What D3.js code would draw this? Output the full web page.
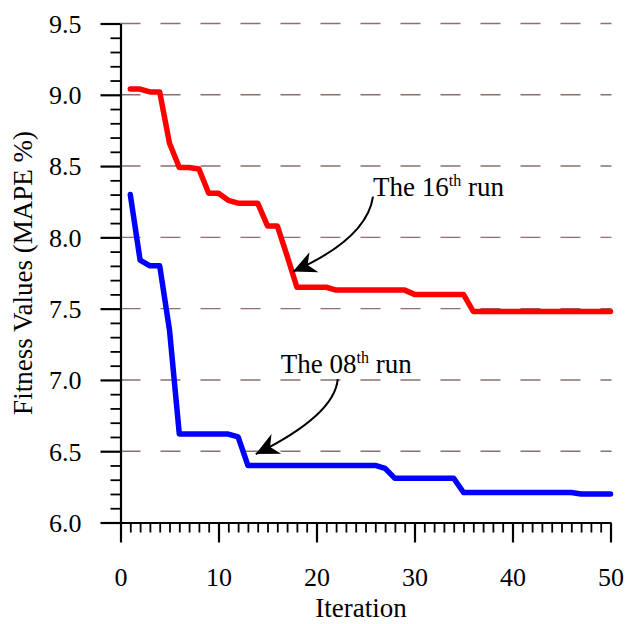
<!DOCTYPE html>
<html>
<head>
<meta charset="utf-8">
<script src="https://cdn.jsdelivr.net/npm/d3@7"></script>
<style>
  body { margin: 0; background: #fff; }
</style>
</head>
<body>
<div id="chart"></div>
<script>
// iterations 1..50
var iterations = d3.range(1, 51);

// the 16th run (red)
var run16 = [9.04, 9.04, 9.02, 9.02, 8.66, 8.49, 8.49, 8.48, 8.31, 8.31,
             8.26, 8.24, 8.24, 8.24, 8.08, 8.08, 7.87, 7.65, 7.65, 7.65,
             7.65, 7.63, 7.63, 7.63, 7.63, 7.63, 7.63, 7.63, 7.63, 7.60,
             7.60, 7.60, 7.60, 7.60, 7.60, 7.48, 7.48, 7.48, 7.48, 7.48,
             7.48, 7.48, 7.48, 7.48, 7.48, 7.48, 7.48, 7.48, 7.48, 7.48];

// the 08th run (blue)
var run08 = [8.30, 7.84, 7.80, 7.80, 7.35, 6.62, 6.62, 6.62, 6.62, 6.62,
             6.62, 6.60, 6.40, 6.40, 6.40, 6.40, 6.40, 6.40, 6.40, 6.40,
             6.40, 6.40, 6.40, 6.40, 6.40, 6.40, 6.38, 6.31, 6.31, 6.31,
             6.31, 6.31, 6.31, 6.31, 6.21, 6.21, 6.21, 6.21, 6.21, 6.21,
             6.21, 6.21, 6.21, 6.21, 6.21, 6.21, 6.20, 6.20, 6.20, 6.20];

var xTicks = [0, 10, 20, 30, 40, 50];
var yTicks = [6.0, 6.5, 7.0, 7.5, 8.0, 8.5, 9.0, 9.5];

// annotations: label, where the arrow points (iteration, value)
var notes = [
  { pre: "The 16", sup: "th", post: " run", at: [17.6, 7.76] },
  { pre: "The 08", sup: "th", post: " run", at: [13.8, 6.48] }
];

var FONT = "'Liberation Serif', 'Times New Roman', serif";

var w = 625, h = 624;
var svg = d3.select("#chart").append("svg")
    .attr("width", w)
    .attr("height", h)
    .attr("font-family", FONT);

var x = d3.scaleLinear().domain([0, 50]).range([120.5, 610.5]);
var y = d3.scaleLinear().domain([6, 9.5]).range([522.5, 23.5]);

// dashed grid
svg.append("g")
    .selectAll("line")
    .data(yTicks.slice(1))
    .enter()
    .append("line")
    .attr("x1", x(0))
    .attr("x2", x(50) + 1)
    .attr("y1", function(d) { return y(d); })
    .attr("y2", function(d) { return y(d); })
    .attr("stroke", "#8f6f6f")
    .attr("stroke-width", 1.4)
    .attr("stroke-dasharray", "20,20");

// minor ticks
var yMinor = d3.range(60, 96).map(function(d) { return d / 10; })
    .filter(function(d) { return Math.round(d * 10) % 5 != 0; });
var xMinor = d3.range(1, 51).filter(function(d) { return d % 10 != 0; });

svg.append("g")
    .attr("transform", "translate(" + x(0) + ",0)")
    .call(d3.axisLeft(y).tickValues(yMinor).tickSize(10).tickFormat(""))
    .call(function(g) {
        g.select(".domain").remove();
        g.selectAll("line").attr("stroke-width", 1.8);
    });

svg.append("g")
    .attr("transform", "translate(0," + y(6) + ")")
    .call(d3.axisBottom(x).tickValues(xMinor).tickSize(10).tickFormat(""))
    .call(function(g) {
        g.select(".domain").remove();
        g.selectAll("line").attr("stroke-width", 1.8);
    });

// major axes
svg.append("g")
    .attr("transform", "translate(" + x(0) + ",0)")
    .call(d3.axisLeft(y).tickValues(yTicks).tickSize(20).tickSizeOuter(0)
        .tickPadding(19).tickFormat(d3.format(".1f")))
    .attr("font-family", FONT)
    .attr("font-size", 26)
    .call(function(g) {
        g.select(".domain").attr("stroke-width", 2.2);
        g.selectAll("line").attr("stroke-width", 2.2);
        g.selectAll("text").attr("dy", "0.34em");
    });

svg.append("g")
    .attr("transform", "translate(0," + y(6) + ")")
    .call(d3.axisBottom(x).tickValues(xTicks).tickSize(20).tickSizeOuter(0)
        .tickPadding(25).tickFormat(d3.format("d")))
    .attr("font-family", FONT)
    .attr("font-size", 26)
    .call(function(g) {
        g.select(".domain").attr("stroke-width", 2.2);
        g.selectAll("line").attr("stroke-width", 2.2);
    });

// axis titles
svg.append("text")
    .attr("x", 361)
    .attr("y", 617)
    .attr("text-anchor", "middle")
    .attr("font-family", FONT)
    .attr("font-size", 27)
    .text("Iteration");

svg.append("text")
    .attr("transform", "translate(32," + y(7.75) + ") rotate(-90)")
    .attr("text-anchor", "middle")
    .attr("font-family", FONT)
    .attr("font-size", 27)
    .text("Fitness Values (MAPE %)");

// series
var line = d3.line()
    .x(function(d, i) { return x(iterations[i]); })
    .y(function(d) { return y(d); });

[[run16, "#ff0000"], [run08, "#0000ff"]].forEach(function(s) {
    svg.append("path")
        .datum(s[0])
        .attr("d", line)
        .attr("fill", "none")
        .attr("stroke", s[1])
        .attr("stroke-width", 5.5)
        .attr("stroke-linejoin", "round")
        .attr("stroke-linecap", "round");
});

// arrow marker
svg.append("defs").append("marker")
    .attr("id", "head")
    .attr("viewBox", "-24 -12 26 24")
    .attr("refX", 0)
    .attr("refY", 0)
    .attr("markerWidth", 26)
    .attr("markerHeight", 24)
    .attr("markerUnits", "userSpaceOnUse")
    .attr("orient", "auto")
    .append("path")
    .attr("d", "M0,0 L-23,-11 L-16,0 L-23,11 Z")
    .attr("fill", "#000");

// annotations: text position and curve are relative to the arrow tip
var offs = [
  { tx: 80, ty: -76, sx: 80, sy: -75, cx: 74, cy: -33 },
  { tx: 25, ty: -81, sx: 82, sy: -75, cx: 79, cy: -39 }
];

notes.forEach(function(n, i) {
    var px = x(n.at[0]), py = y(n.at[1]), o = offs[i];
    svg.append("path")
        .attr("d", "M" + (px + o.sx) + "," + (py + o.sy) +
              " Q" + (px + o.cx) + "," + (py + o.cy) + " " + px + "," + py)
        .attr("fill", "none")
        .attr("stroke", "#000")
        .attr("stroke-width", 2)
        .attr("marker-end", "url(#head)");
    var t = svg.append("text")
        .attr("x", px + o.tx)
        .attr("y", py + o.ty)
        .attr("font-family", FONT)
        .attr("font-size", 27);
    t.append("tspan").text(n.pre);
    t.append("tspan").attr("font-size", 16).attr("dy", -10).text(n.sup);
    t.append("tspan").attr("dy", 10).text(n.post);
});
</script>
</body>
</html>
